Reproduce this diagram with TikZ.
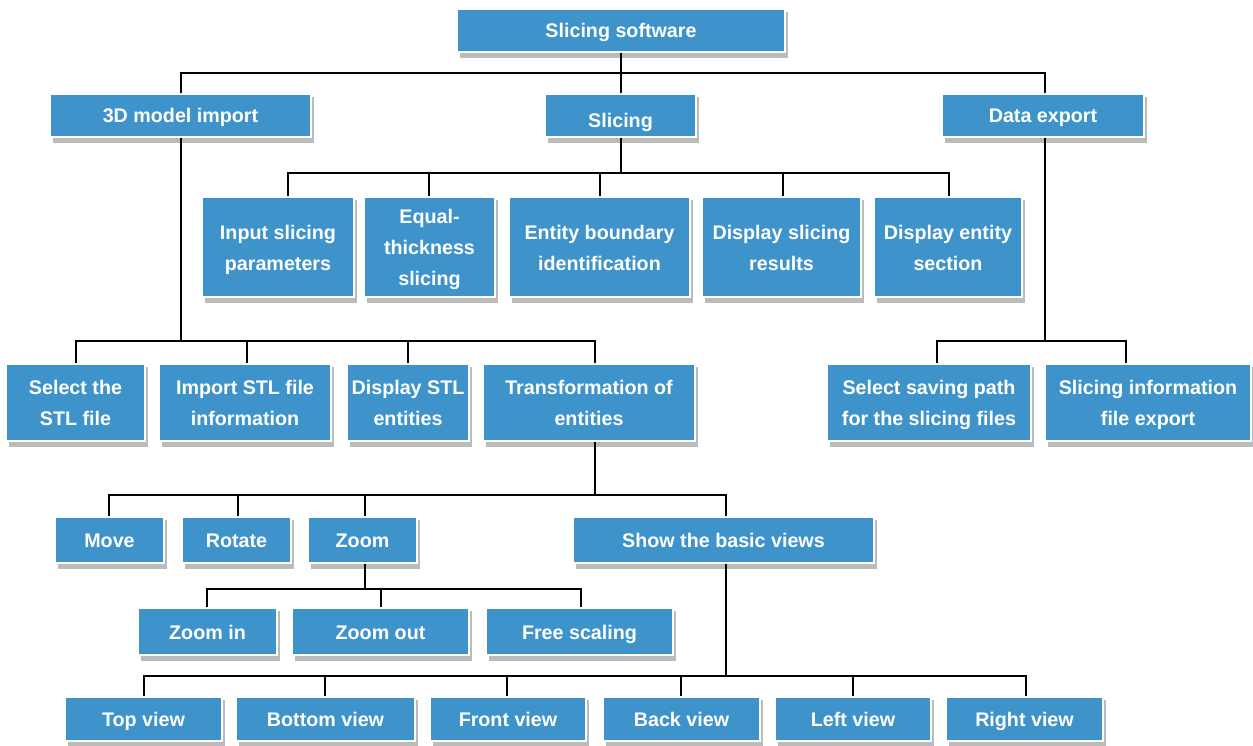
\documentclass[tikz,border=0pt]{standalone}
\usepackage{fontspec}
\setmainfont{Liberation Sans}
\definecolor{boxblue}{HTML}{3E93CB}
\definecolor{shadowc}{HTML}{BBBBBB}
\tikzset{
  box/.style={fill=boxblue, draw=white, line width=1.2pt, text=white, inner sep=0pt, align=center,
    font=\fontsize{19.7}{31}\selectfont\bfseries},
  ln/.style={draw=black, line width=1.9pt, line join=miter},
}
\newcommand\st{\rule[-7pt]{0pt}{29pt}}
\newcommand\bx[6]{%
  \fill[shadowc] (#2+3,#3+3) rectangle (#4+3,#5+6);
  \node[box, minimum width={(#4-#2)*1pt}, minimum height={(#5-#3)*1pt}] (#1) at ({(#2+#4)/2},{(#3+#5)/2}) {\st #6\st};
}
\begin{document}
\begin{tikzpicture}[x=1pt,y=-1pt]
\useasboundingbox[fill=white] (0,0) rectangle (1253,746);
% bus coordinates
\coordinate (a1) at (181,73); \coordinate (a2) at (1045,73); \coordinate (a0) at (621,73);
\coordinate (s1) at (288,173); \coordinate (s2) at (429,173); \coordinate (s3) at (600,173); \coordinate (s4) at (783,173); \coordinate (s5) at (949,173); \coordinate (s0) at (621,173);
\coordinate (m1) at (76,341); \coordinate (m2) at (247,341); \coordinate (m3) at (408,341); \coordinate (m4) at (595,341);
\coordinate (e1) at (937,341); \coordinate (e2) at (1126,341); \coordinate (e0) at (1045,341); \coordinate (m0) at (181,341);
\coordinate (t1) at (109,495); \coordinate (t2) at (238,495); \coordinate (t3) at (365,495); \coordinate (t4) at (726,495);
\coordinate (z1) at (207,589); \coordinate (z2) at (381,589); \coordinate (z3) at (581,589); \coordinate (z0) at (365,589);
\coordinate (v1) at (144,676); \coordinate (v2) at (325,676); \coordinate (v3) at (507,676); \coordinate (v4) at (681,676); \coordinate (v5) at (853,676); \coordinate (v6) at (1026,676); \coordinate (v0) at (726,676);

\bx{soft}{457}{9}{785}{52}{Slicing software}
\bx{imp}{50}{94}{311}{137}{3D model import}
\bx{slic}{545}{94}{696}{137}{\rule[-7pt]{0pt}{39pt}Slicing}
\bx{exp}{942}{94}{1144}{137}{Data export}

\bx{inp}{202}{197}{354}{297}{Input slicing\\parameters}
\bx{eq}{364}{197}{495}{297}{Equal-\\thickness\\slicing}
\bx{ent}{509}{197}{690}{297}{Entity boundary\\identification}
\bx{dsr}{702}{197}{861}{297}{Display slicing\\results}
\bx{des}{874}{197}{1022}{297}{Display entity\\section}

\bx{sel}{6}{364}{145}{441}{Select the\\STL file}
\bx{ims}{159}{364}{331}{441}{Import STL file\\information}
\bx{dst}{347}{364}{469}{441}{Display STL\\entities}
\bx{tra}{483}{364}{695}{441}{Transformation of\\entities}
\bx{ssp}{827}{364}{1031}{441}{Select saving path\\for the slicing files}
\bx{sie}{1045}{364}{1251}{441}{Slicing information\\file export}

\bx{mov}{55}{517}{164}{563}{Move}
\bx{rot}{182}{517}{291}{563}{Rotate}
\bx{zoo}{308}{517}{417}{563}{Zoom}
\bx{sbv}{573}{517}{874}{563}{Show the basic views}

\bx{zin}{138}{608}{277}{655}{Zoom in}
\bx{zout}{292}{608}{469}{655}{Zoom out}
\bx{fre}{486}{608}{673}{655}{Free scaling}

\bx{top}{65}{697}{222}{741}{Top view}
\bx{bot}{236}{697}{415}{741}{Bottom view}
\bx{fro}{430}{697}{586}{741}{Front view}
\bx{bac}{603}{697}{760}{741}{Back view}
\bx{lef}{775}{697}{931}{741}{Left view}
\bx{rig}{946}{697}{1103}{741}{Right view}

% level 0 -> 1
\draw[ln] (a0 |- soft.south) -- (a0 |- slic.north);
\draw[ln] (a1 |- imp.north) -- (a1) -- (a2) -- (a2 |- exp.north);
% slicing
\draw[ln] (s0 |- slic.south) -- (s0);
\draw[ln] (s1 |- inp.north) -- (s1) -- (s5) -- (s5 |- des.north);
\draw[ln] (s2) -- (s2 |- eq.north);
\draw[ln] (s3) -- (s3 |- ent.north);
\draw[ln] (s4) -- (s4 |- dsr.north);
% 3D model import
\draw[ln] (a1 |- imp.south) -- (m0);
\draw[ln] (m1 |- sel.north) -- (m1) -- (m4) -- (m4 |- tra.north);
\draw[ln] (m2) -- (m2 |- ims.north);
\draw[ln] (m3) -- (m3 |- dst.north);
% data export
\draw[ln] (a2 |- exp.south) -- (e0);
\draw[ln] (e1 |- ssp.north) -- (e1) -- (e2) -- (e2 |- sie.north);
% transformation
\draw[ln] (m4 |- tra.south) -- (m4 |- t1);
\draw[ln] (t1 |- mov.north) -- (t1) -- (t4) -- (t4 |- sbv.north);
\draw[ln] (t2) -- (t2 |- rot.north);
\draw[ln] (t3) -- (t3 |- zoo.north);
% zoom
\draw[ln] (z0 |- zoo.south) -- (z0);
\draw[ln] (z1 |- zin.north) -- (z1) -- (z3) -- (z3 |- fre.north);
\draw[ln] (z2) -- (z2 |- zout.north);
% basic views
\draw[ln] (v0 |- sbv.south) -- (v0);
\draw[ln] (v1 |- top.north) -- (v1) -- (v6) -- (v6 |- rig.north);
\draw[ln] (v2) -- (v2 |- bot.north);
\draw[ln] (v3) -- (v3 |- fro.north);
\draw[ln] (v4) -- (v4 |- bac.north);
\draw[ln] (v5) -- (v5 |- lef.north);
\end{tikzpicture}
\end{document}
